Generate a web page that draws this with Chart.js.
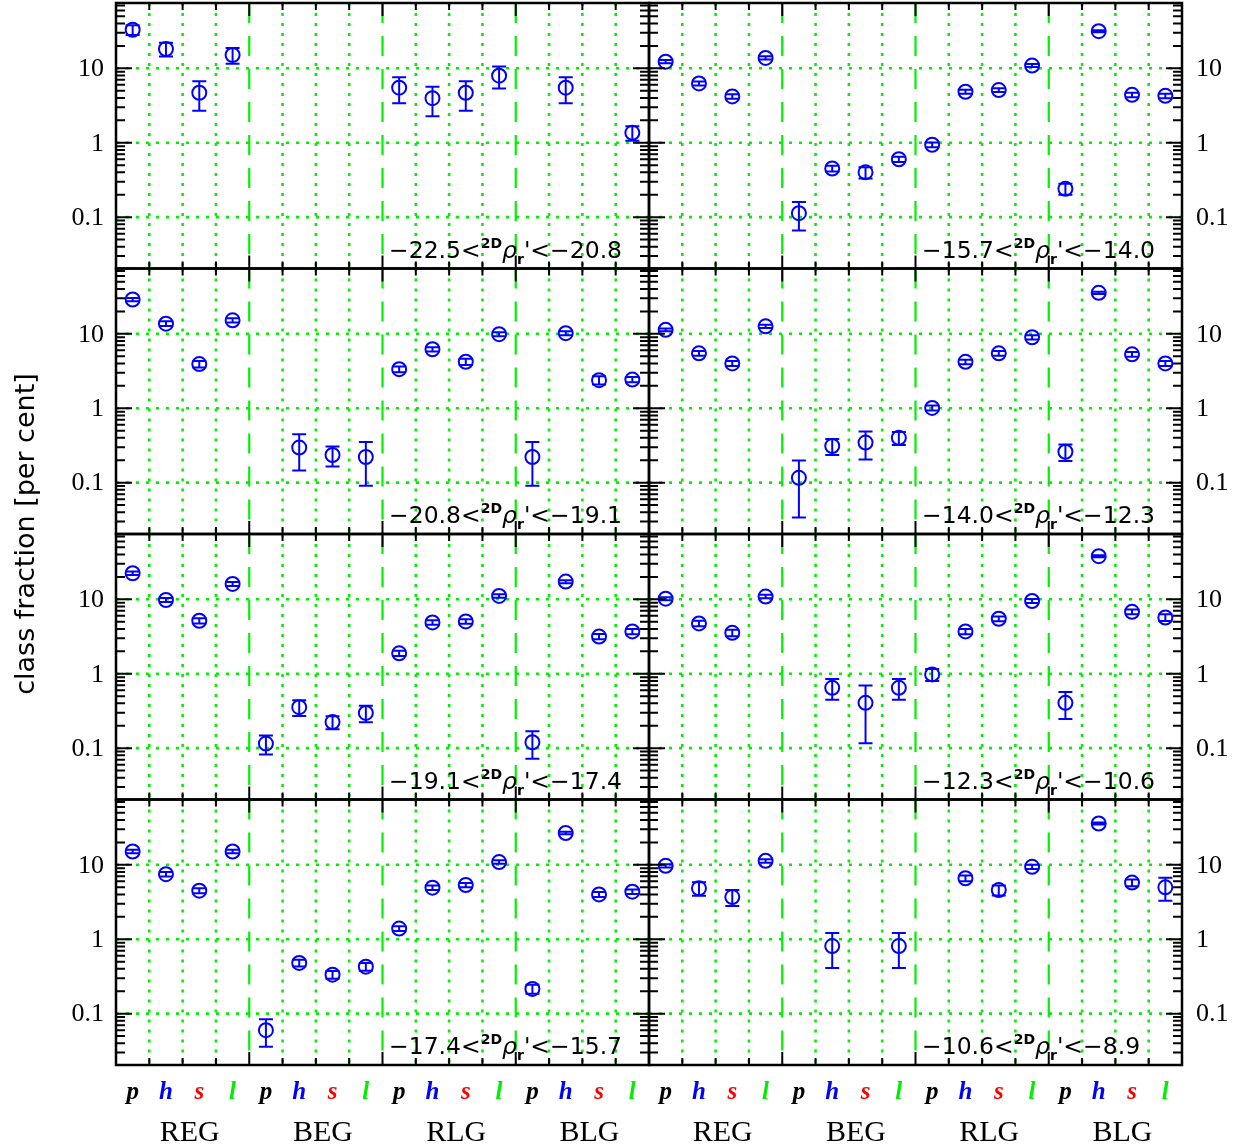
<!DOCTYPE html>
<html><head><meta charset="utf-8">
<script src="https://cdn.jsdelivr.net/npm/chart.js@4.4.1/dist/chart.umd.min.js"></script>
<style>
html,body{margin:0;padding:0;background:#fff;}
#wrap{position:relative;width:1243px;height:1148px;overflow:hidden;background:#fff;}
#wrap canvas{position:absolute;left:0;top:0;}
</style></head><body><div id="wrap"></div>
<script>
// ---------- data ----------
const classes = ['p','h','s','l'];
const groups = ['REG','BEG','RLG','BLG'];
const yTickValues = [0.1, 1, 10];
const yTickLabels = ['0.1','1','10'];
const yTitle = 'class fraction [per cent]';
const binLow  = ['\u221222.5','\u221220.8','\u221219.1','\u221217.4','\u221215.7','\u221214.0','\u221212.3','\u221210.6'];
const binHigh = ['\u221220.8','\u221219.1','\u221217.4','\u221215.7','\u221214.0','\u221212.3','\u221210.6','\u22128.9'];

// order inside each array: REG p,h,s,l | BEG p,h,s,l | RLG p,h,s,l | BLG p,h,s,l
const frac0 = [33, 18.2, 4.7, 15.1,  null, null, null, null,  5.5, 3.97, 4.7, 7.96,  null, 5.5, null, 1.36];
const err0  = [5, 3.8, 2.0, 3.6,     null, null, null, null,  2.1, 1.7, 2.0, 2.6,    null, 2.1, null, 0.3];
const frac1 = [28.9, 13.7, 3.92, 15.2,  null, 0.296, 0.235, 0.221,  3.35, 6.2, 4.21, 9.9,  0.221, 10.2, 2.38, 2.43];
const err1  = [1.5, 1.0, 0.4, 1.0,      null, 0.15, 0.07, 0.13,     0.3, 0.4, 0.4, 0.6,    0.13, 0.6, 0.3, 0.2];
const frac2 = [22.4, 9.8, 5.15, 16.1,  0.115, 0.355, 0.224, 0.297,  1.88, 4.89, 5.05, 11.1,  0.12, 17.3, 3.16, 3.7];
const err2  = [1.2, 0.6, 0.4, 1.0,     0.033, 0.085, 0.045, 0.075,  0.15, 0.35, 0.35, 0.6,   0.048, 0.8, 0.25, 0.3];
const frac3 = [15.1, 7.48, 4.49, 15.1,  0.060, 0.48, 0.334, 0.428,  1.39, 4.93, 5.36, 10.9,  0.215, 26.8, 4.0, 4.36];
const err3  = [0.8, 0.5, 0.35, 0.8,     0.024, 0.05, 0.04, 0.05,    0.1, 0.35, 0.35, 0.6,    0.03, 1.0, 0.3, 0.3];
const frac4 = [12.3, 6.27, 4.19, 13.8,  0.113, 0.45, 0.40, 0.60,  0.94, 4.84, 5.1, 10.9,  0.24, 31.6, 4.4, 4.27];
const err4  = [0.6, 0.4, 0.3, 0.7,      0.047, 0.04, 0.07, 0.05,  0.07, 0.3, 0.3, 0.5,    0.04, 1.0, 0.3, 0.3];
const frac5 = [11.3, 5.47, 4.0, 12.6,  0.116, 0.311, 0.345, 0.40,  1.01, 4.2, 5.47, 9.0,  0.26, 35.6, 5.3, 4.0];
const err5  = [0.5, 0.4, 0.3, 0.6,     0.082, 0.075, 0.14, 0.08,   0.08, 0.3, 0.4, 0.6,   0.065, 1.2, 0.4, 0.3];
const frac6 = [10.2, 4.74, 3.55, 10.9,  null, 0.647, 0.406, 0.647,  0.98, 3.7, 5.48, 9.5,  0.406, 38, 6.8, 5.7];
const err6  = [0.5, 0.4, 0.35, 0.6,     null, 0.2, 0.29, 0.2,       0.18, 0.3, 0.4, 0.6,   0.16, 1.2, 0.5, 0.6];
const frac7 = [9.7, 4.83, 3.69, 11.3,  null, 0.81, null, 0.81,  null, 6.6, 4.58, 9.4,  null, 35.9, 5.77, 4.99];
const err7  = [0.5, 1.0, 0.9, 0.6,     null, 0.4, null, 0.4,    null, 0.6, 0.7, 0.6,   null, 1.2, 0.6, 1.7];

const fracs = [frac0, frac1, frac2, frac3, frac4, frac5, frac6, frac7];
const errs  = [err0, err1, err2, err3, err4, err5, err6, err7];

// ---------- layout / style ----------
const W = 1243, H = 1148;
const COL_LEFT = [116, 649];
const PANEL_W = 533;
const ROW_TOP = [3, 268.5, 534, 799.5];
const PANEL_H = 265.5;
const Y_MIN = 0.0204, Y_MAX = 75.5;
const BLUE = '#0000ff', GREEN = '#00f000';
const CLASS_COLORS = ['#000000', '#0000ff', '#ff0000', '#00ee00'];

function drawRangeLabel(ctx, xLeft, baseline, lo, hi) {
  const parts = [
    {t: lo + '<', f: '23.5px "DejaVu Sans"', dy: 0},
    {t: '2D', f: 'bold 14px "DejaVu Sans"', dy: -10},
    {t: '\u03c1', f: 'italic 23.5px "DejaVu Sans"', dy: 0},
    {t: 'r', f: 'bold 14px "DejaVu Sans"', dy: 6},
    {t: '\'<' + hi, f: '23.5px "DejaVu Sans"', dy: 0}
  ];
  let x = xLeft;
  ctx.fillStyle = '#000';
  ctx.textAlign = 'left';
  ctx.textBaseline = 'alphabetic';
  parts.forEach(p => { ctx.font = p.f; ctx.fillText(p.t, x, baseline + p.dy); x += ctx.measureText(p.t).width; });
}

const panelPlugin = {
  id: 'panelDecor',
  beforeDatasetsDraw(chart, args, opts) {
    const {ctx, chartArea: a, scales: {x, y}} = chart;
    ctx.save();
    ctx.beginPath(); ctx.rect(a.left, a.top, a.right - a.left, a.bottom - a.top); ctx.clip();
    // vertical grid
    ctx.strokeStyle = GREEN;
    for (let k = 1; k < 16; k++) {
      const px = x.getPixelForValue(k - 0.5);
      ctx.beginPath();
      if (k % 4 === 0) { ctx.setLineDash([20, 13]); ctx.lineWidth = 2.2; }
      else { ctx.setLineDash([3, 7]); ctx.lineWidth = 2.6; }
      ctx.moveTo(px, a.top); ctx.lineTo(px, a.bottom); ctx.stroke();
    }
    // horizontal grid at decades
    ctx.setLineDash([3, 7]); ctx.lineWidth = 2.6;
    yTickValues.forEach(v => {
      const py = y.getPixelForValue(v);
      ctx.beginPath(); ctx.moveTo(a.left, py); ctx.lineTo(a.right, py); ctx.stroke();
    });
    ctx.setLineDash([]);
    // error bars
    const vals = opts.vals, ers = opts.errs;
    ctx.strokeStyle = BLUE; ctx.lineWidth = 2;
    for (let i = 0; i < vals.length; i++) {
      if (vals[i] == null || ers[i] == null) continue;
      const px = x.getPixelForValue(i);
      const lo = Math.max(vals[i] - ers[i], Y_MIN * 0.5);
      const pyHi = y.getPixelForValue(vals[i] + ers[i]);
      const pyLo = y.getPixelForValue(lo);
      ctx.beginPath();
      ctx.moveTo(px, pyLo); ctx.lineTo(px, pyHi);
      ctx.moveTo(px - 7, pyHi); ctx.lineTo(px + 7, pyHi);
      ctx.moveTo(px - 7, pyLo); ctx.lineTo(px + 7, pyLo);
      ctx.stroke();
    }
    ctx.restore();
  },
  afterDatasetsDraw(chart, args, opts) {
    const {ctx, chartArea: a, scales: {x, y}} = chart;
    ctx.save();
    ctx.strokeStyle = '#000'; ctx.lineWidth = 2;
    // x ticks (top and bottom, inward)
    for (let k = 1; k < 16; k++) {
      const px = x.getPixelForValue(k - 0.5);
      const len = (k % 4 === 0) ? 13 : 7;
      ctx.beginPath();
      ctx.moveTo(px, a.top); ctx.lineTo(px, a.top + len);
      ctx.moveTo(px, a.bottom); ctx.lineTo(px, a.bottom - len);
      ctx.stroke();
    }
    // y ticks (left and right, inward), log minor ticks
    for (let d = -2; d <= 1; d++) {
      for (let m = 1; m <= 9; m++) {
        const v = m * Math.pow(10, d);
        if (v <= Y_MIN || v >= Y_MAX) continue;
        const py = y.getPixelForValue(v);
        const len = (m === 1) ? 16 : 9;
        ctx.beginPath();
        ctx.moveTo(a.left, py); ctx.lineTo(a.left + len, py);
        ctx.moveTo(a.right, py); ctx.lineTo(a.right - len, py);
        ctx.stroke();
      }
    }
    // frame
    ctx.lineWidth = 2.5;
    ctx.strokeRect(a.left, a.top, a.right - a.left, a.bottom - a.top);

    // range label
    drawRangeLabel(ctx, a.left + 273, a.bottom - 11, opts.lo, opts.hi);

    // y tick labels
    ctx.fillStyle = '#000';
    ctx.font = '26px "Liberation Serif"';
    ctx.textBaseline = 'middle';
    yTickValues.forEach((v, j) => {
      const py = y.getPixelForValue(v);
      if (opts.col === 0) { ctx.textAlign = 'right'; ctx.fillText(yTickLabels[j], a.left - 12, py + 1); }
      else { ctx.textAlign = 'left'; ctx.fillText(yTickLabels[j], a.right + 14, py + 1); }
    });

    // x labels on bottom row
    if (opts.row === 3) {
      ctx.textAlign = 'center';
      ctx.textBaseline = 'alphabetic';
      for (let i = 0; i < 16; i++) {
        const px = x.getPixelForValue(i);
        ctx.font = 'italic bold 25px "Liberation Serif"';
        ctx.fillStyle = CLASS_COLORS[i % 4];
        ctx.fillText(classes[i % 4], px, 1099);
      }
      ctx.font = '30px "Liberation Serif"';
      ctx.fillStyle = '#000';
      groups.forEach((g, j) => {
        const px = x.getPixelForValue(j * 4 + 1.5) + 7;
        ctx.fillText(g, px, 1141);
      });
    }
    // y axis title
    if (opts.col === 0 && opts.row === 0) {
      ctx.save();
      ctx.translate(27, 534);
      ctx.rotate(-Math.PI / 2);
      ctx.font = '27px "DejaVu Sans"';
      ctx.fillStyle = '#000';
      ctx.textAlign = 'center';
      ctx.textBaseline = 'middle';
      ctx.fillText(yTitle, 0, 0);
      ctx.restore();
    }
    ctx.restore();
  }
};

const wrap = document.getElementById('wrap');
for (let b = 0; b < 8; b++) {
  const col = b < 4 ? 0 : 1;
  const row = b % 4;
  const L = COL_LEFT[col], T = ROW_TOP[row];
  const cv = document.createElement('canvas');
  cv.width = W; cv.height = H;
  cv.style.width = W + 'px'; cv.style.height = H + 'px';
  wrap.appendChild(cv);
  const vals = fracs[b], ers = errs[b];
  const pts = [];
  vals.forEach((v, i) => { if (v != null) pts.push({x: i, y: v}); });
  new Chart(cv, {
    type: 'scatter',
    data: { datasets: [{
      data: pts,
      pointRadius: 7, pointHoverRadius: 7,
      pointBorderWidth: 2, pointHoverBorderWidth: 2,
      borderColor: BLUE, pointBorderColor: BLUE,
      backgroundColor: 'rgba(0,0,0,0)', pointBackgroundColor: 'rgba(0,0,0,0)',
      showLine: false
    }]},
    options: {
      responsive: false, animation: false, events: [],
      layout: { autoPadding: false, padding: { left: L, top: T, right: W - L - PANEL_W, bottom: H - T - PANEL_H } },
      plugins: {
        legend: { display: false }, tooltip: { enabled: false },
        panelDecor: { vals, errs: ers, lo: binLow[b], hi: binHigh[b], col, row }
      },
      scales: {
        x: { type: 'linear', min: -0.5, max: 15.5, display: false },
        y: { type: 'logarithmic', min: Y_MIN, max: Y_MAX, display: false }
      }
    },
    plugins: [panelPlugin]
  });
}
</script></body></html>
